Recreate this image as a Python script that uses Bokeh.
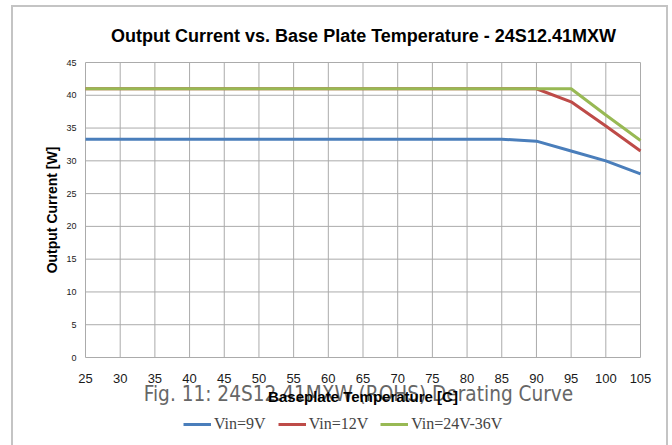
from bokeh.plotting import figure
from bokeh.models import Range1d, Legend, LegendItem, Label, FixedTicker
from bokeh.embed import file_html
from bokeh.resources import INLINE

temps = [25, 30, 35, 40, 45, 50, 55, 60, 65, 70, 75, 80, 85, 90, 95, 100, 105]
vin_9 = [33.3, 33.3, 33.3, 33.3, 33.3, 33.3, 33.3, 33.3, 33.3, 33.3, 33.3, 33.3, 33.3, 33.0, 31.5, 30.0, 28.0]
vin_12 = [41, 41, 41, 41, 41, 41, 41, 41, 41, 41, 41, 41, 41, 41, 39.0, 35.3, 31.5]
vin_24_36 = [41, 41, 41, 41, 41, 41, 41, 41, 41, 41, 41, 41, 41, 41, 41, 37.0, 33.1]
series_names = ["Vin=9V", "Vin=12V", "Vin=24V-36V"]
x_ticks = list(range(25, 106, 5))
y_ticks = list(range(0, 46, 5))

W, H = 672, 445
# plot area (pixels) inside the canvas
PL, PR, PT, PB = 85, 640, 62, 357
xs = (PR - PL) / (x_ticks[-1] - x_ticks[0])
ys = (PB - PT) / (y_ticks[-1] - y_ticks[0])
x_range = Range1d(x_ticks[0] - PL / xs, x_ticks[-1] + (W - PR) / xs)
y_range = Range1d(y_ticks[0] - (H - PB) / ys, y_ticks[-1] + PT / ys)

p = figure(width=W, height=H, output_backend="svg", toolbar_location=None, title=None,
           x_range=x_range, y_range=y_range,
           min_border=0, min_border_left=0, min_border_right=0, min_border_top=0, min_border_bottom=0)
p.border_fill_color = None
p.background_fill_color = None
p.outline_line_color = None
p.styles = {
    "background-color": "white",
    "background-image": "linear-gradient(#c4c4c4,#c4c4c4), linear-gradient(#c4c4c4,#c4c4c4), linear-gradient(#c4c4c4,#c4c4c4)",
    "background-size": "2px 445px, 656px 2px, 2px 445px",
    "background-position": "11px 5px, 11px 5px, 666px 5px",
    "background-repeat": "no-repeat",
}
p.xgrid.visible = False
p.ygrid.visible = False

# grid drawn from tick arrays
p.segment(x0=x_ticks, x1=x_ticks, y0=[y_ticks[0]] * len(x_ticks), y1=[y_ticks[-1]] * len(x_ticks),
          line_color="#ababab", line_width=1)
p.segment(x0=[x_ticks[0]] * len(y_ticks), x1=[x_ticks[-1]] * len(y_ticks), y0=y_ticks, y1=y_ticks,
          line_color="#ababab", line_width=1)

xa = p.xaxis[0]
ya = p.yaxis[0]
xa.fixed_location = y_ticks[0]
ya.fixed_location = x_ticks[0]
xa.bounds = (x_ticks[0], x_ticks[-1])
ya.bounds = (y_ticks[0], y_ticks[-1])
xa.ticker = FixedTicker(ticks=x_ticks)
ya.ticker = FixedTicker(ticks=y_ticks)
for ax in (xa, ya):
    ax.axis_line_color = None
    ax.major_tick_line_color = None
    ax.minor_tick_line_color = None
    ax.major_label_text_font = "Liberation Sans"
    ax.major_label_text_color = "#1a1a1a"
    ax.axis_label_text_font = "Liberation Sans"
    ax.axis_label_text_font_style = "bold"
    ax.axis_label_text_color = "black"
ya.axis_label_text_font_size = "14px"
xa.axis_label_text_font_size = "15px"
ya.major_label_text_font_size = "9px"
xa.major_label_text_font_size = "13px"
ya.major_label_standoff = 3
xa.major_label_standoff = 10
ya.axis_label = "Output Current [W]"
xa.axis_label = "Baseplate Temperature [C]"
xa.axis_label_standoff = 2
ya.axis_label_standoff = 3

colors = ["#4a7ebb", "#be4b48", "#98b954"]
renderers = []
for vals, c in zip([vin_9, vin_12, vin_24_36], colors):
    r = p.line(temps, vals, line_color=c, line_width=3)
    renderers.append(r)

p.add_layout(Label(x=363, y=H - 35, x_units="screen", y_units="screen",
                   text="Output Current vs. Base Plate Temperature - 24S12.41MXW",
                   text_font="Liberation Sans", text_font_size="18px", text_font_style="bold",
                   text_color="black", text_align="center", text_baseline="middle"))

p.add_layout(Label(x=358, y=H - 393, x_units="screen", y_units="screen",
                   text="Fig. 11: 24S12.41MXW (ROHS) Derating Curve",
                   text_font="DejaVu Sans Condensed", text_font_size="20.6px",
                   text_color="#666666", text_align="center", text_baseline="middle",
                   level="underlay"))

legend = Legend(items=[LegendItem(label=n, renderers=[r]) for n, r in zip(series_names, renderers)],
                orientation="horizontal", location=(183, 11),
                label_text_font="Liberation Serif", label_text_font_size="16px",
                glyph_width=28, label_standoff=3, spacing=12,
                background_fill_alpha=0, border_line_color=None, padding=0, margin=0)
p.add_layout(legend, "center")

open("out.html", "w").write(file_html(p, INLINE))
